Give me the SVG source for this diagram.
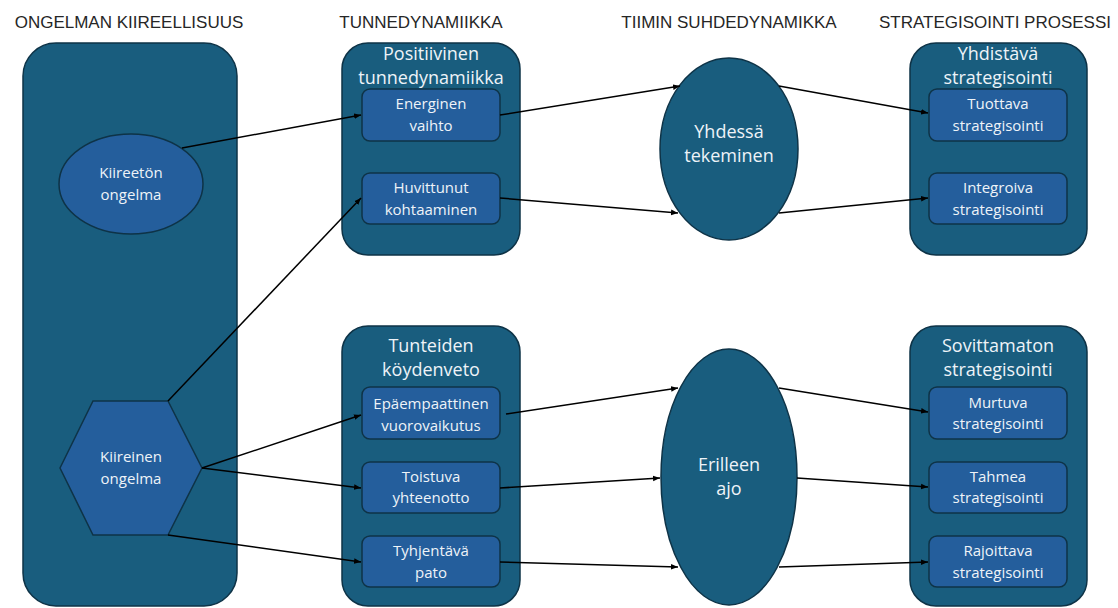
<svg xmlns="http://www.w3.org/2000/svg" width="1118" height="608" viewBox="0 0 1118 608">
<defs>
<marker id="ah" viewBox="0 0 10 10" refX="10" refY="5" markerWidth="7" markerHeight="7" markerUnits="userSpaceOnUse" orient="auto">
<path d="M0,1 L10,5 L0,9 z" fill="#000"/>
</marker>
<style>
.hdr{font-family:"Liberation Sans",Arial,sans-serif;font-size:17px;fill:#262626;text-anchor:middle}
.cont{fill:#195D7E;stroke:#0E3347;stroke-width:1.5}
.inner{fill:#245E9C;stroke:#0E3347;stroke-width:1.5}
.t{font-family:"Open Sans","Liberation Sans",sans-serif;fill:#EEF3F8;text-anchor:middle;font-size:15px}
.tl{font-family:"Open Sans","Liberation Sans",sans-serif;fill:#EEF3F8;text-anchor:middle;font-size:18px}
.c{fill:none;stroke:#000;stroke-width:1.5;marker-end:url(#ah)}
</style>
</defs>
<rect width="1118" height="608" fill="#fff"/>
<g id="headers">
<text class="hdr" x="129" y="28">ONGELMAN KIIREELLISUUS</text>
<text class="hdr" x="421" y="28">TUNNEDYNAMIIKKA</text>
<text class="hdr" x="729" y="28">TIIMIN SUHDEDYNAMIKKA</text>
<text class="hdr" x="995" y="28">STRATEGISOINTI PROSESSI</text>
</g>
<g id="kiireellisuus">
<rect class="cont" x="23" y="43" width="214" height="563" rx="33"/>
</g>
<g id="kiireeton">
<ellipse class="inner" cx="131" cy="184" rx="72" ry="50"/>
<text class="t" x="131" y="178">Kiireetön</text>
<text class="t" x="131" y="200">ongelma</text>
</g>
<g id="kiireinen">
<polygon class="inner" points="60,468 93,401 168,401 202,468 168,535 93,535"/>
<text class="t" x="131" y="462">Kiireinen</text>
<text class="t" x="131" y="484">ongelma</text>
</g>
<g id="positiivinen">
<rect class="cont" x="342" y="43" width="178" height="212" rx="26"/>
<text class="tl" x="431" y="60">Positiivinen</text>
<text class="tl" x="431" y="84">tunnedynamiikka</text>
</g>
<g id="energinen">
<rect class="inner" x="362" y="89" width="138" height="52" rx="8"/>
<text class="t" x="431" y="109">Energinen</text>
<text class="t" x="431" y="131">vaihto</text>
</g>
<g id="huvittunut">
<rect class="inner" x="362" y="173" width="138" height="51" rx="8"/>
<text class="t" x="431" y="193">Huvittunut</text>
<text class="t" x="431" y="215">kohtaaminen</text>
</g>
<g id="koydenveto">
<rect class="cont" x="342" y="326" width="178" height="280" rx="26"/>
<text class="tl" x="431" y="352">Tunteiden</text>
<text class="tl" x="431" y="376">köydenveto</text>
</g>
<g id="epaempaattinen">
<rect class="inner" x="362" y="387" width="138" height="52" rx="8"/>
<text class="t" x="431" y="409">Epäempaattinen</text>
<text class="t" x="431" y="431">vuorovaikutus</text>
</g>
<g id="toistuva">
<rect class="inner" x="362" y="462" width="138" height="51" rx="8"/>
<text class="t" x="431" y="482">Toistuva</text>
<text class="t" x="431" y="503">yhteenotto</text>
</g>
<g id="tyhjentava">
<rect class="inner" x="362" y="536" width="138" height="51" rx="8"/>
<text class="t" x="431" y="556">Tyhjentävä</text>
<text class="t" x="431" y="578">pato</text>
</g>
<g id="yhdessa">
<ellipse class="cont" cx="729" cy="149" rx="69" ry="91"/>
<text class="tl" x="729" y="138">Yhdessä</text>
<text class="tl" x="729" y="162">tekeminen</text>
</g>
<g id="erilleen">
<ellipse class="cont" cx="729" cy="477" rx="68" ry="128"/>
<text class="tl" x="729" y="471">Erilleen</text>
<text class="tl" x="729" y="495">ajo</text>
</g>
<g id="yhdistava">
<rect class="cont" x="910" y="43" width="177" height="212" rx="26"/>
<text class="tl" x="998" y="60">Yhdistävä</text>
<text class="tl" x="998" y="84">strategisointi</text>
</g>
<g id="tuottava">
<rect class="inner" x="929" y="89" width="138" height="52" rx="8"/>
<text class="t" x="998" y="109">Tuottava</text>
<text class="t" x="998" y="131">strategisointi</text>
</g>
<g id="integroiva">
<rect class="inner" x="929" y="173" width="138" height="51" rx="8"/>
<text class="t" x="998" y="193">Integroiva</text>
<text class="t" x="998" y="215">strategisointi</text>
</g>
<g id="sovittamaton">
<rect class="cont" x="910" y="326" width="177" height="280" rx="26"/>
<text class="tl" x="998" y="352">Sovittamaton</text>
<text class="tl" x="998" y="376">strategisointi</text>
</g>
<g id="murtuva">
<rect class="inner" x="929" y="387" width="138" height="52" rx="8"/>
<text class="t" x="998" y="408">Murtuva</text>
<text class="t" x="998" y="429">strategisointi</text>
</g>
<g id="tahmea">
<rect class="inner" x="929" y="462" width="138" height="51" rx="8"/>
<text class="t" x="998" y="482">Tahmea</text>
<text class="t" x="998" y="503">strategisointi</text>
</g>
<g id="rajoittava">
<rect class="inner" x="929" y="536" width="138" height="51" rx="8"/>
<text class="t" x="998" y="556">Rajoittava</text>
<text class="t" x="998" y="578">strategisointi</text>
</g>
<g id="connectors">
<line class="c" x1="182" y1="148" x2="361" y2="115"/>
<line class="c" x1="168" y1="401" x2="361" y2="198"/>
<line class="c" x1="202" y1="468" x2="361" y2="415"/>
<line class="c" x1="202" y1="468" x2="361" y2="488"/>
<line class="c" x1="168" y1="535" x2="361" y2="562"/>
<line class="c" x1="500" y1="115" x2="680" y2="86"/>
<line class="c" x1="500" y1="198" x2="678" y2="213"/>
<line class="c" x1="506" y1="414" x2="678" y2="388"/>
<line class="c" x1="500" y1="488" x2="660" y2="478"/>
<line class="c" x1="500" y1="562" x2="678" y2="567"/>
<line class="c" x1="779" y1="86" x2="928" y2="113"/>
<line class="c" x1="779" y1="213" x2="928" y2="198"/>
<line class="c" x1="779" y1="388" x2="928" y2="412"/>
<line class="c" x1="797" y1="478" x2="928" y2="487"/>
<line class="c" x1="779" y1="567" x2="928" y2="562"/>
</g>
</svg>
